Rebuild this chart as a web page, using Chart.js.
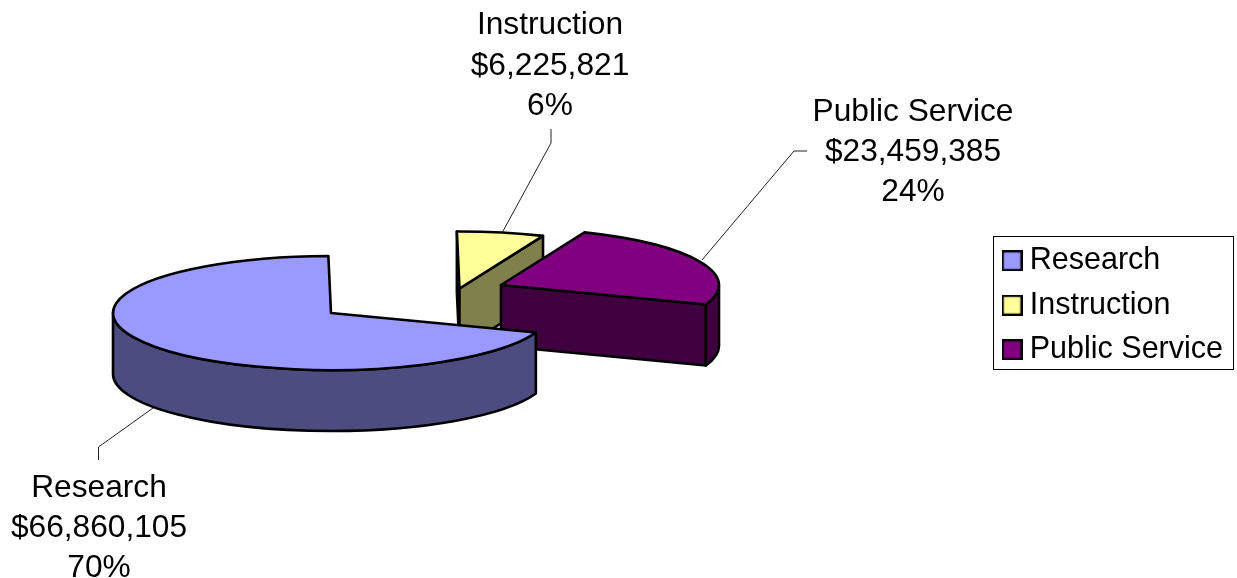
<!DOCTYPE html>
<html>
<head>
<meta charset="utf-8">
<style>
    html, body { margin: 0; padding: 0; background: #ffffff; }
    #wrap { width: 1237px; height: 578px; }
</style>
<script src="https://cdn.jsdelivr.net/npm/chart.js@4"></script>
</head>
<body>
<div id="wrap"><canvas id="pie"></canvas></div>
<script>
const categories = ['Research', 'Instruction', 'Public Service'];
const amounts = [66860105, 6225821, 23459385];
const percentLabels = ['70%', '6%', '24%'];

const topColours = ['#9999ff', '#ffff99', '#800080'];
const wallColours = ['#4c4c80', '#80804c', '#400040'];

const FONT = '"Liberation Sans", Arial, sans-serif';

// The pie is squashed and extruded by hand, Chart.js has no 3D pie.
const pie3d = {
    id: 'pie3d',
    beforeDatasetsDraw(chart, args, opts) {
        const ctx = chart.ctx;
        const arcs = chart.getDatasetMeta(0).data;

        ctx.save();
        ctx.lineWidth = opts.lineWidth;
        ctx.lineJoin = 'round';
        ctx.strokeStyle = '#000000';

        const paint = (colour) => {
            ctx.fillStyle = colour;
            ctx.fill();
            ctx.stroke();
        };

        opts.drawOrder.forEach((i) => {
            const arc = arcs[i];
            const [cx, cy] = opts.apexes[i];
            const r = arc.outerRadius;
            const ry = r * opts.squash;
            const a = arc.startAngle;
            const b = arc.endAngle;

            const cutFace = (angle) => {
                const x = cx + Math.cos(angle) * r;
                const y = cy + Math.sin(angle) * ry;
                ctx.beginPath();
                ctx.moveTo(cx, cy);
                ctx.lineTo(x, y);
                ctx.lineTo(x, y + opts.depth);
                ctx.lineTo(cx, cy + opts.depth);
                ctx.closePath();
                paint(wallColours[i]);
            };

            if (-Math.cos(a) > 0) {
                cutFace(a);
            }
            if (Math.cos(b) > 0) {
                cutFace(b);
            }

            // outer wall, only the part on the front half of the ellipse
            [[0, Math.PI], [2 * Math.PI, 3 * Math.PI]].forEach(([from, to]) => {
                const t1 = Math.max(a, from);
                const t2 = Math.min(b, to);
                if (t2 <= t1) {
                    return;
                }
                ctx.beginPath();
                ctx.ellipse(cx, cy, r, ry, 0, t1, t2);
                ctx.ellipse(cx, cy + opts.depth, r, ry, 0, t2, t1, true);
                ctx.closePath();
                paint(wallColours[i]);
            });

            ctx.beginPath();
            ctx.moveTo(cx, cy);
            ctx.ellipse(cx, cy, r, ry, 0, a, b);
            ctx.closePath();
            paint(arc.options.backgroundColor);
        });

        ctx.restore();
        return false;
    },
    afterDraw(chart, args, opts) {
        const ctx = chart.ctx;

        ctx.save();
        ctx.lineWidth = 1;
        ctx.strokeStyle = '#000000';
        ctx.strokeRect(...opts.legendFrame);

        ctx.strokeStyle = '#222222';
        opts.leaders.forEach((points) => {
            ctx.beginPath();
            points.forEach(([x, y], n) => (n ? ctx.lineTo(x, y) : ctx.moveTo(x, y)));
            ctx.stroke();
        });

        ctx.fillStyle = '#000000';
        ctx.font = `${opts.labelSize}px ${FONT}`;
        ctx.textAlign = 'center';
        ctx.textBaseline = 'middle';
        categories.forEach((name, i) => {
            const [x, y] = opts.labelCentres[i];
            const lines = [name, `$${amounts[i].toLocaleString('en-US')}`, percentLabels[i]];
            lines.forEach((line, n) => ctx.fillText(line, x, y + n * opts.labelLeading));
        });
        ctx.restore();
    },
};

function legendMarker(colour) {
    const c = document.createElement('canvas');
    c.width = 21;
    c.height = 21;
    const g = c.getContext('2d');
    g.fillStyle = colour;
    g.fillRect(1, 1, 19, 19);
    g.strokeStyle = '#000000';
    g.lineWidth = 2.5;
    g.strokeRect(1, 1, 19, 19);
    return c;
}

new Chart(document.getElementById('pie'), {
    type: 'pie',
    plugins: [pie3d],
    data: {
        labels: categories,
        datasets: [
            {
                data: amounts,
                backgroundColor: topColours,
                radius: 218,
                borderWidth: 0,
            },
        ],
    },
    options: {
        responsive: true,
        maintainAspectRatio: false,
        animation: false,
        events: [],
        rotation: 110,
        layout: {
            padding: { top: 231.5, right: 4 },
        },
        plugins: {
            tooltip: { enabled: false },
            legend: {
                position: 'right',
                align: 'start',
                labels: {
                    usePointStyle: true,
                    pointStyleWidth: 5,
                    padding: 14,
                    color: '#000000',
                    font: { family: FONT, size: 30.5 },
                    generateLabels(chart) {
                        return Chart.overrides.pie.plugins.legend.labels.generateLabels(chart).map((item, i) => ({
                            ...item,
                            pointStyle: legendMarker(topColours[i]),
                        }));
                    },
                },
            },
            pie3d: {
                apexes: [[331, 313], [459.5, 288.5], [501, 285]],
                drawOrder: [1, 2, 0],
                squash: 0.2615,
                depth: 61,
                lineWidth: 2.6,
                legendFrame: [993.5, 236.5, 240, 133],
                leaders: [
                    [[153, 408], [98.5, 447], [98.5, 460]],
                    [[502, 233], [551, 143], [551, 129]],
                    [[702, 260], [794, 151], [807, 151]],
                ],
                labelCentres: [[99, 488], [550, 25.5], [913, 112]],
                labelLeading: 40.3,
                labelSize: 31.7,
            },
        },
    },
});
</script>
</body>
</html>
